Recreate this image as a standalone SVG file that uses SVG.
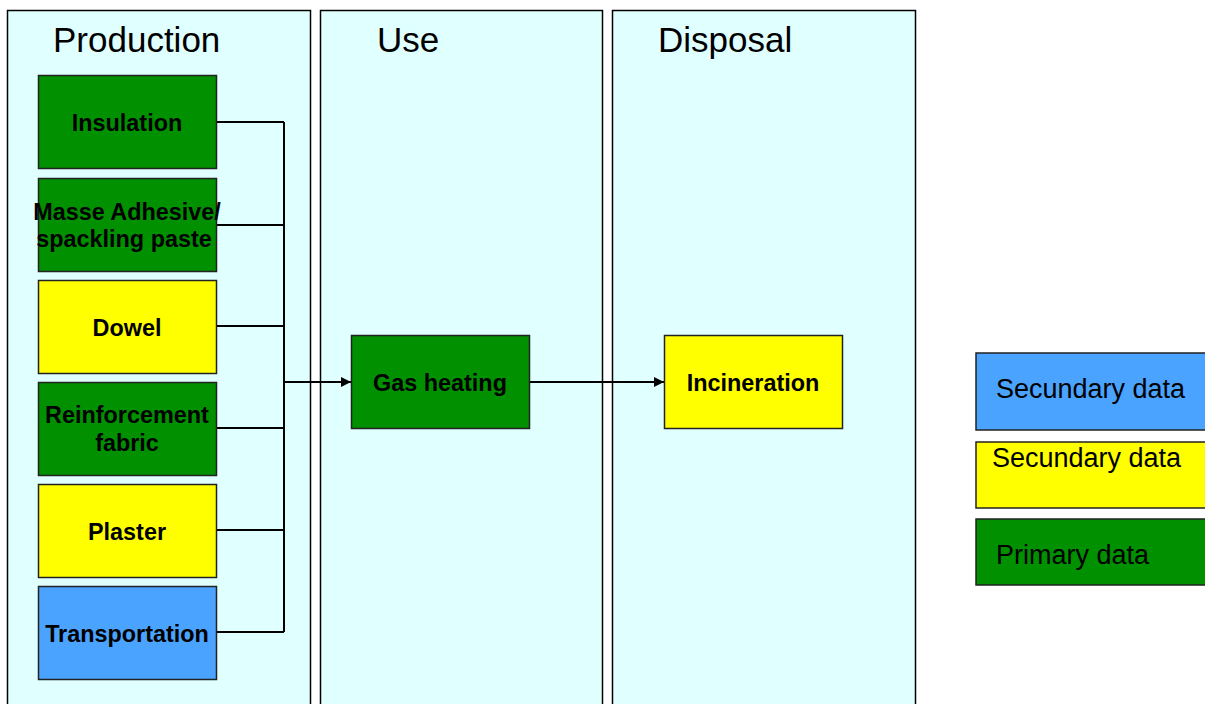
<svg xmlns="http://www.w3.org/2000/svg" width="1205" height="704" viewBox="0 0 1205 704">
<defs>
<style>
.panel{fill:#E0FFFF;stroke:#000;stroke-width:1.5}
.box{stroke:#222;stroke-width:1.5}
.g{fill:#009000}.y{fill:#FFFF00}.b{fill:#4AA3FF}
.lbl{font-family:"Liberation Sans",Arial,sans-serif;font-weight:bold;font-size:23.4px;text-anchor:middle;fill:#000}
.ttl{font-family:"Liberation Sans",Arial,sans-serif;font-size:35px;fill:#000}
.leg{font-family:"Liberation Sans",Arial,sans-serif;font-size:27px;fill:#000}
.con{fill:none;stroke:#000;stroke-width:2}
</style>
<marker id="arr" viewBox="0 0 10 10" refX="10" refY="5" markerWidth="10" markerHeight="10" markerUnits="userSpaceOnUse" orient="auto"><path d="M0,0 L10,5 L0,10 z" fill="#000"/></marker>
</defs>
<rect width="1205" height="704" fill="#fff"/>
<g id="panel-production"><rect class="panel" x="7.5" y="10.5" width="303" height="700"/><text class="ttl" x="53" y="52">Production</text></g>
<g id="panel-use"><rect class="panel" x="320.5" y="10.5" width="282" height="700"/><text class="ttl" x="377" y="52">Use</text></g>
<g id="panel-disposal"><rect class="panel" x="612.5" y="10.5" width="303" height="700"/><text class="ttl" x="658" y="52">Disposal</text></g>
<g id="connectors">
<path class="con" d="M216,122 H284 M216,225 H284 M216,326 H284 M216,428 H284 M216,530 H284 M216,632 H284 M284,122 V632"/>
<path class="con" d="M284,382 H351" marker-end="url(#arr)"/>
<path class="con" d="M529,382 H664" marker-end="url(#arr)"/>
</g>
<g id="insulation"><rect class="box g" x="38.5" y="75.5" width="178" height="93"/><text class="lbl" x="127" y="131">Insulation</text></g>
<g id="masse"><rect class="box g" x="38.5" y="178.5" width="178" height="93"/><text class="lbl" x="127" y="220">Masse Adhesive/</text><text class="lbl" x="124" y="247">spackling paste</text></g>
<g id="dowel"><rect class="box y" x="38.5" y="280.5" width="178" height="93"/><text class="lbl" x="127" y="336">Dowel</text></g>
<g id="reinforcement"><rect class="box g" x="38.5" y="382.5" width="178" height="93"/><text class="lbl" x="127" y="423">Reinforcement</text><text class="lbl" x="127" y="451">fabric</text></g>
<g id="plaster"><rect class="box y" x="38.5" y="484.5" width="178" height="93"/><text class="lbl" x="127" y="540">Plaster</text></g>
<g id="transportation"><rect class="box b" x="38.5" y="586.5" width="178" height="93"/><text class="lbl" x="127" y="642">Transportation</text></g>
<g id="gas-heating"><rect class="box g" x="351.5" y="335.5" width="178" height="93"/><text class="lbl" x="440" y="391">Gas heating</text></g>
<g id="incineration"><rect class="box y" x="664.5" y="335.5" width="178" height="93"/><text class="lbl" x="753" y="391">Incineration</text></g>
<g id="legend-secondary-blue"><rect class="box b" x="976" y="353" width="240" height="77"/><text class="leg" x="996" y="398">Secundary data</text></g>
<g id="legend-secondary-yellow"><rect class="box y" x="976" y="442" width="240" height="66"/><text class="leg" x="992" y="467">Secundary data</text></g>
<g id="legend-primary"><rect class="box g" x="976" y="519" width="240" height="66"/><text class="leg" x="996" y="564">Primary data</text></g>
</svg>
